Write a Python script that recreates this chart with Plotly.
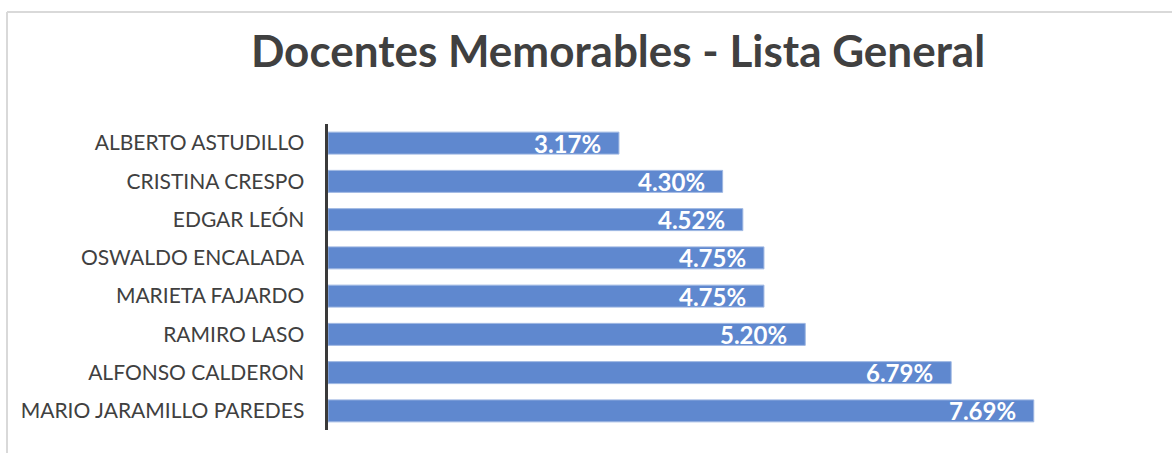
import plotly.graph_objects as go

docentes = ["ALBERTO ASTUDILLO", "CRISTINA CRESPO", "EDGAR LEÓN", "OSWALDO ENCALADA",
            "MARIETA FAJARDO", "RAMIRO LASO", "ALFONSO CALDERON", "MARIO JARAMILLO PAREDES"]
porcentajes = [3.17, 4.30, 4.52, 4.75, 4.75, 5.20, 6.79, 7.69]
etiquetas = ["3.17%", "4.30%", "4.52%", "4.75%", "4.75%", "5.20%", "6.79%", "7.69%"]

W, H = 1172, 453
L, R, T, B = 328, 18, 124, 23
pw, ph = W - L - R, H - T - B

fig = go.Figure(go.Bar(
    x=porcentajes, y=docentes, orientation="h",
    marker=dict(color="#5F88CF", line=dict(color="#9DB6E2", width=1)),
    width=0.575, hoverinfo="skip",
))

for v, d, t in zip(porcentajes, docentes, etiquetas):
    fig.add_annotation(x=v, y=d, text="<b>%s</b>" % t, showarrow=False,
                       xanchor="right", yanchor="middle", xshift=-16, yshift=0,
                       font=dict(family="Lato", size=24, color="white"))

def px(x):
    return (x - L) / pw

def py(y):
    return (H - B - y) / ph

fig.add_shape(type="line", xref="paper", yref="paper", x0=px(7), x1=px(1190), y0=py(12), y1=py(12),
              line=dict(color="#D9D9D9", width=2))
fig.add_shape(type="line", xref="paper", yref="paper", x0=px(7), x1=px(7), y0=py(12), y1=py(470),
              line=dict(color="#D9D9D9", width=2))

fig.update_layout(
    width=W, height=H,
    margin=dict(l=L, r=R, t=T, b=B, pad=0),
    paper_bgcolor="white", plot_bgcolor="white",
    showlegend=False,
    title=dict(text="<b>Docentes Memorables - Lista General</b>", x=618 / W, xanchor="center",
               y=1 - 52 / H, yanchor="middle", yref="container",
               font=dict(family="Lato", size=44, color="#404040")),
    xaxis=dict(range=[0, 9], visible=False, showgrid=False, zeroline=False, fixedrange=True),
    yaxis=dict(autorange="reversed", categoryorder="array", categoryarray=docentes,
               showline=True, linecolor="#3A3A3A", linewidth=3.5, ticks="",
               layer="above traces",
               ticklabelstandoff=16, showgrid=False, zeroline=False, fixedrange=True,
               tickfont=dict(family="Lato", size=21, color="#404040")),
)

fig.write_html("out.html", config={"displayModeBar": False, "staticPlot": True},
               post_script="document.body.style.margin='0';document.body.style.overflow='hidden';")
